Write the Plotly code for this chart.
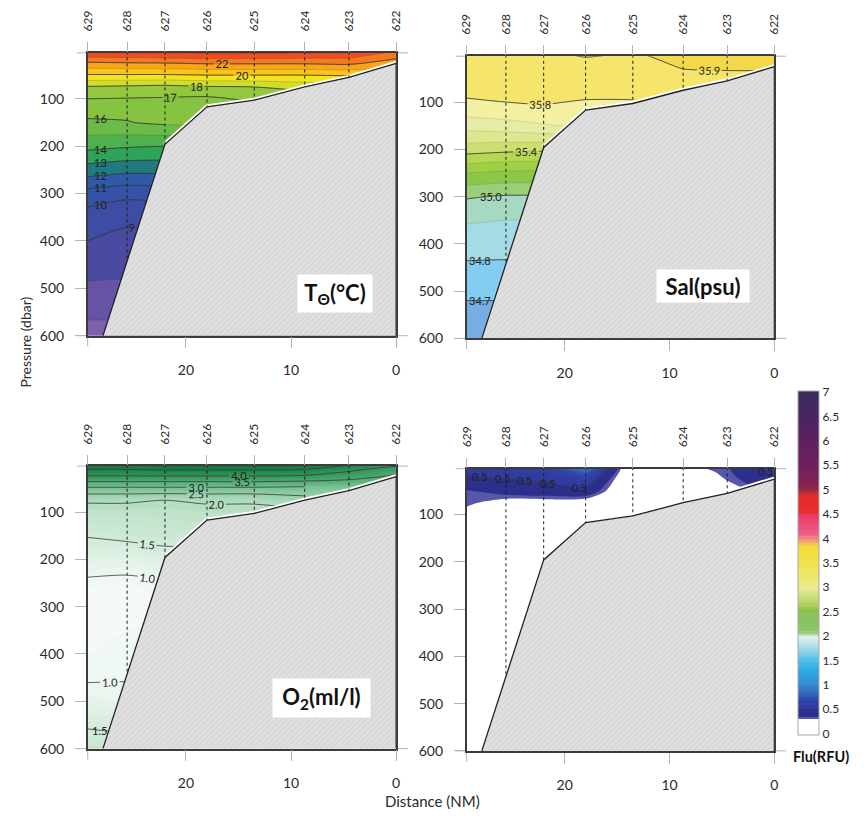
import plotly.graph_objects as go

# ---------------- data ----------------
STATIONS = ["629", "628", "627", "626", "625", "624", "623", "622"]
DIST = [29.35, 25.6, 22.0, 18.0, 13.5, 8.7, 4.5, 0.0]          # NM
STATION_BOTTOM = [600, 442, 196, 117, 103, 75, 55, 25]          # dbar
BATHY_DIST = [27.9, 22.0, 18.0, 13.5, 8.7, 4.5, 0.0]
BATHY_PRES = [600, 196, 117, 103, 75, 55, 25]
DEPTH = [0, 10, 25, 50, 75, 100, 125, 150, 200, 250, 300, 350, 400, 450, 500, 600]
X_TICKS = [20, 10, 0]
P_TICKS = [100, 200, 300, 400, 500, 600]
CB_TICKS = [0, 0.5, 1, 1.5, 2, 2.5, 3, 3.5, 4, 4.5, 5, 5.5, 6, 6.5, 7]

# rows = DEPTH, columns = stations 629 ... 622
TEMP = [
    [24.3, 24.3, 24.3, 24.4, 24.4, 24.4, 24.3, 23.0],
    [23.2, 23.3, 23.4, 23.5, 23.5, 23.4, 23.3, 22.3],
    [21.8, 21.9, 21.95, 22.1, 22.1, 22.1, 22.2, 21.5],
    [19.9, 19.9, 19.9, 20.0, 20.0, 20.0, 20.1, 20.2],
    [17.9, 17.8, 17.7, 17.9, 18.0, 18.3, 18.4, 18.4],
    [17.0, 16.95, 16.9, 16.8, 17.2, 17.4, 17.4, 17.4],
    [16.4, 16.25, 16.5, 16.6, 16.6, 16.6, 16.6, 16.6],
    [15.8, 15.95, 16.2, 16.2, 16.2, 16.2, 16.2, 16.2],
    [14.3, 14.1, 14.0, 14.0, 14.0, 14.0, 14.0, 14.0],
    [12.55, 12.3, 12.3, 12.3, 12.3, 12.3, 12.3, 12.3],
    [10.6, 10.3, 10.4, 10.4, 10.4, 10.4, 10.4, 10.4],
    [9.55, 9.15, 9.3, 9.3, 9.3, 9.3, 9.3, 9.3],
    [9.0, 8.8, 8.8, 8.8, 8.8, 8.8, 8.8, 8.8],
    [8.45, 8.3, 8.3, 8.3, 8.3, 8.3, 8.3, 8.3],
    [7.8, 7.8, 7.8, 7.8, 7.8, 7.8, 7.8, 7.8],
    [6.6, 6.6, 6.6, 6.6, 6.6, 6.6, 6.6, 6.6],
]
SAL = [
    [35.86, 35.87, 35.88, 35.91, 35.89, 35.93, 35.94, 35.95],
    [35.86, 35.87, 35.87, 35.89, 35.88, 35.92, 35.93, 35.93],
    [35.85, 35.86, 35.86, 35.87, 35.87, 35.905, 35.91, 35.91],
    [35.84, 35.85, 35.85, 35.86, 35.86, 35.88, 35.88, 35.88],
    [35.82, 35.83, 35.83, 35.84, 35.84, 35.86, 35.86, 35.86],
    [35.79, 35.80, 35.81, 35.79, 35.79, 35.84, 35.84, 35.84],
    [35.72, 35.74, 35.76, 35.77, 35.77, 35.80, 35.80, 35.80],
    [35.64, 35.66, 35.69, 35.72, 35.72, 35.72, 35.72, 35.72],
    [35.45, 35.43, 35.42, 35.45, 35.45, 35.45, 35.45, 35.45],
    [35.20, 35.18, 35.18, 35.20, 35.20, 35.20, 35.20, 35.20],
    [35.01, 34.99, 34.99, 35.00, 35.00, 35.00, 35.00, 35.00],
    [34.91, 34.90, 34.90, 34.90, 34.90, 34.90, 34.90, 34.90],
    [34.85, 34.84, 34.84, 34.84, 34.84, 34.84, 34.84, 34.84],
    [34.78, 34.78, 34.78, 34.78, 34.78, 34.78, 34.78, 34.78],
    [34.72, 34.72, 34.72, 34.72, 34.72, 34.72, 34.72, 34.72],
    [34.62, 34.62, 34.62, 34.62, 34.62, 34.62, 34.62, 34.62],
]
OXY = [
    [4.85, 4.85, 4.9, 4.9, 4.9, 4.85, 4.55, 4.1],
    [4.5, 4.5, 4.55, 4.55, 4.55, 4.5, 4.1, 3.8],
    [3.95, 3.95, 3.95, 3.95, 3.95, 3.9, 3.75, 3.4],
    [2.9, 2.9, 2.9, 2.9, 2.9, 2.85, 2.8, 2.8],
    [2.05, 2.05, 2.0, 2.05, 2.05, 2.3, 2.3, 2.3],
    [1.85, 1.85, 1.85, 1.9, 1.9, 1.9, 1.9, 1.9],
    [1.7, 1.72, 1.75, 1.8, 1.8, 1.8, 1.8, 1.8],
    [1.52, 1.6, 1.62, 1.62, 1.62, 1.62, 1.62, 1.62],
    [1.25, 1.2, 1.35, 1.35, 1.35, 1.35, 1.35, 1.35],
    [0.92, 0.9, 0.95, 0.95, 0.95, 0.95, 0.95, 0.95],
    [0.8, 0.88, 0.9, 0.9, 0.9, 0.9, 0.9, 0.9],
    [0.85, 0.9, 0.9, 0.9, 0.9, 0.9, 0.9, 0.9],
    [0.9, 0.93, 0.93, 0.93, 0.93, 0.93, 0.93, 0.93],
    [0.96, 0.98, 0.98, 0.98, 0.98, 0.98, 0.98, 0.98],
    [1.15, 1.1, 1.1, 1.1, 1.1, 1.1, 1.1, 1.1],
    [1.75, 1.7, 1.7, 1.7, 1.7, 1.7, 1.7, 1.7],
]
FLU = [
    [0.53, 0.56, 0.62, 0.95, 0.10, 0.27, 0.34, 0.56],
    [0.52, 0.54, 0.58, 0.80, 0.10, 0.22, 0.33, 0.53],
    [0.48, 0.50, 0.53, 0.62, 0.10, 0.15, 0.31, 0.47],
    [0.34, 0.40, 0.42, 0.45, 0.10, 0.10, 0.20, 0.40],
    [0.32, 0.25, 0.25, 0.22, 0.10, 0.10, 0.10, 0.10],
    [0.26, 0.15, 0.12, 0.10, 0.10, 0.10, 0.10, 0.10],
    [0.15, 0.10, 0.10, 0.10, 0.10, 0.10, 0.10, 0.10],
    [0.10, 0.10, 0.10, 0.10, 0.10, 0.10, 0.10, 0.10],
    [0.10, 0.10, 0.10, 0.10, 0.10, 0.10, 0.10, 0.10],
    [0.10, 0.10, 0.10, 0.10, 0.10, 0.10, 0.10, 0.10],
    [0.10, 0.10, 0.10, 0.10, 0.10, 0.10, 0.10, 0.10],
    [0.10, 0.10, 0.10, 0.10, 0.10, 0.10, 0.10, 0.10],
    [0.10, 0.10, 0.10, 0.10, 0.10, 0.10, 0.10, 0.10],
    [0.10, 0.10, 0.10, 0.10, 0.10, 0.10, 0.10, 0.10],
    [0.10, 0.10, 0.10, 0.10, 0.10, 0.10, 0.10, 0.10],
    [0.10, 0.10, 0.10, 0.10, 0.10, 0.10, 0.10, 0.10],
]

# ---------------- styles ----------------
FONT = "Lato, 'Open Sans', sans-serif"
OFF = 8                            # default body margin of the html page
W, H = 866 - 2 * OFF, 825 - 2 * OFF
TICK_C = "#b4b4b4"
BOX_C = "#3c3c3c"
TXT_C = "#2a2a2a"

T_COLORS = ["#7d60ae", "#6753a3", "#4a4aa0", "#3d4da3", "#3453a6", "#2e5aa8",
            "#1f7b7d", "#2ea35a", "#4fb04e", "#6cba48", "#86c341", "#93c83e",
            "#d2dc2a", "#f4e41c", "#fbc418", "#f9a51b", "#f47a20", "#ef4d23", "#e8401f"]
S_COLORS = ["#6a9fdc", "#76aee3", "#83cdf1", "#a3dbe6", "#a7d8c2", "#98cf78",
            "#8cc747", "#9fcf45", "#b5d752", "#cbe070", "#dce78e", "#e7eca4",
            "#f3f0a2", "#f5e56b", "#f2d84a"]
O2_STOPS = [(0.6, "#ffffff"), (0.9, "#f3f9f5"), (1.2, "#e3f2e8"), (1.5, "#d2ebda"),
            (1.8, "#c2e4cd"), (2.0, "#b2dcc0"), (2.5, "#94cfa8"), (3.0, "#72bf8c"),
            (3.5, "#50ab71"), (4.0, "#32965a"), (4.5, "#1c8348"), (5.0, "#0c6f38")]
FLU_STOPS = [(0.0, "#ffffff"), (0.299, "#ffffff"), (0.30, "#5a5aab"), (0.349, "#5454a8"),
             (0.35, "#2b2e8a"), (0.499, "#2c308e"), (0.50, "#30389e"), (0.7, "#3044a8"),
             (0.8, "#3262b8"), (1.0, "#3a88cf"), (1.25, "#2aa6df"), (1.5, "#4cc0e8"),
             (1.75, "#a4dbe6"), (1.99, "#e2f1f0"), (2.0, "#cfe6c0"), (2.1, "#8fc56a"),
             (2.5, "#8ac15c"), (2.55, "#90c040"), (2.6, "#a9cf5a"), (2.99, "#e8eb9c"),
             (3.0, "#eeea86"), (3.5, "#efe24c"), (3.85, "#f0dd35"), (3.9, "#f6b06a"),
             (4.0, "#f08a7c"), (4.1, "#ee5c88"), (4.49, "#e83866"), (4.5, "#e8302e"),
             (4.9, "#e42a2a"), (4.95, "#a8303e"), (5.05, "#8a2450"), (5.5, "#6c205e"),
             (6.0, "#5e2060"), (6.5, "#4a2462"), (7.0, "#3a2a5e")]


def band_scale(colors):
    n = len(colors) - 1
    return [[i / n, c] for i, c in enumerate(colors)]


def value_scale(stops, start, end, size):
    lo, hi = start - size / 2, end + size / 2
    out = [[min(max((v - lo) / (hi - lo), 0.0), 1.0), c] for v, c in stops]
    if out[0][0] > 0:
        out.insert(0, [0.0, out[0][1]])
    if out[-1][0] < 1:
        out.append([1.0, out[-1][1]])
    return out


def px(x):
    return (x - OFF) / W


def py(y):
    return 1 - (y - OFF) / H


def sfx(k):
    return "" if k == 1 else str(k)


def crossing_depth(table, x, level, dmin, dmax):
    """depth at which the section crosses `level` on the vertical at distance x"""
    i, t = 0, 0.0
    for j in range(len(DIST) - 1):
        if DIST[j] >= x >= DIST[j + 1]:
            i, t = j, (DIST[j] - x) / (DIST[j] - DIST[j + 1])
            break
    prof = [(1 - t) * row[i] + t * row[i + 1] for row in table]
    for j in range(len(DEPTH) - 1):
        d0, d1 = DEPTH[j], DEPTH[j + 1]
        if d1 < dmin or d0 > dmax:
            continue
        v0, v1 = prof[j], prof[j + 1]
        if v0 != v1 and (v0 - level) * (v1 - level) <= 0:
            return d0 + (level - v0) / (v1 - v0) * (d1 - d0)
    return None


# panel boxes in window pixels: left, top, right, bottom
PANELS = [(81, 53.3, 395, 339), (466.7, 56.7, 780, 341.7),
          (81, 470.7, 395, 756), (466.7, 473.3, 780, 758.3)]
P_TOP = 3
ALL = list(range(8))
LAB_FONT = dict(size=11, color="#222", family=FONT)

fig = go.Figure()
edge_labels = []


def add_panel(k, z, fill, line_specs, label_specs):
    xa, ya, xtop = "x" + sfx(k), "y" + sfx(k), "x" + str(k + 4)
    fig.add_trace(go.Contour(x=DIST, y=DEPTH, z=z, xaxis=xa, yaxis=ya,
                             autocontour=False, hoverinfo="skip", **fill))
    for cols, level, fmt, lab in line_specs:
        fig.add_trace(go.Contour(
            x=[DIST[c] for c in cols], y=DEPTH,
            z=[[row[c] for c in cols] for row in z],
            xaxis=xa, yaxis=ya, autocontour=False, showscale=False, hoverinfo="skip",
            contours=dict(coloring="none", start=level, end=level, size=1,
                          showlabels=lab, labelformat=fmt, labelfont=LAB_FONT),
            line=dict(color="#3a3a3a", width=0.8, smoothing=0.8)))
    # labels of contour lines that run into the slope, placed on the line itself
    for level, x, dmin, dmax, fmt in label_specs:
        d = crossing_depth(z, x, level, dmin, dmax)
        if d is not None:
            edge_labels.append(dict(text=format(level, fmt), x=x, y=d, xref=xa, yref=ya,
                                    showarrow=False, font=LAB_FONT,
                                    xanchor="center", yanchor="middle"))
    sx, sy = [], []
    for d, b in zip(DIST[1:-1], STATION_BOTTOM[1:-1]):
        sx += [d, d, None]
        sy += [DEPTH[0], b, None]
    fig.add_trace(go.Scatter(x=sx, y=sy, mode="lines", xaxis=xtop, yaxis=ya,
                             line=dict(color="#1e1e1e", width=1, dash="dot"),
                             hoverinfo="skip", showlegend=False))
    fig.add_trace(go.Scatter(x=BATHY_DIST[1:], y=BATHY_PRES[1:], mode="lines",
                             xaxis=xa, yaxis=ya, line=dict(color="white", width=5),
                             hoverinfo="skip", showlegend=False))
    fig.add_trace(go.Scatter(
        x=BATHY_DIST + [DIST[-1]], y=BATHY_PRES + [DEPTH[-1]], mode="lines",
        fill="toself", fillcolor="#dcdcdc",
        fillpattern=dict(shape="/", fgcolor="#c6c6c6", bgcolor="#e0e0e0",
                         size=4, solidity=0.3),
        line=dict(color="#222", width=1.3), xaxis=xa, yaxis=ya,
        hoverinfo="skip", showlegend=False))


add_panel(1, TEMP, dict(
    contours=dict(coloring="fill", start=7, end=24, size=1, showlines=True),
    line=dict(color="rgba(40,40,40,0.35)", width=0.5, smoothing=0.8),
    colorscale=band_scale(T_COLORS), showscale=False),
    [([0, 1, 2], lv, ".0f", False) for lv in (10, 11, 12, 13, 14, 16)]
    + [([0, 1, 2], 9, ".0f", True), ([0, 1, 2, 3, 4], 17, ".0f", True),
       ([0, 1, 2, 3, 4, 5], 18, ".0f", True), (ALL, 20, ".0f", True), (ALL, 22, ".0f", True)],
    [(16, 28.15, 100, 200, ".0f"), (14, 28.15, 150, 400, ".0f"),
     (13, 28.15, 150, 400, ".0f"), (12, 28.15, 150, 400, ".0f"),
     (11, 28.15, 150, 400, ".0f"), (10, 28.15, 150, 400, ".0f")])

add_panel(2, SAL, dict(
    contours=dict(coloring="fill", start=34.6, end=35.9, size=0.1, showlines=True),
    line=dict(color="rgba(40,40,40,0.22)", width=0.5, smoothing=0.8),
    colorscale=band_scale(S_COLORS), showscale=False),
    [([0, 1, 2, 3], lv, ".1f", False) for lv in (34.7, 34.8, 35.0)]
    + [([0, 1, 2, 3], 35.4, ".1f", True), ([0, 1, 2, 3, 4], 35.8, ".1f", True),
       (ALL, 35.9, ".1f", True)],
    [(35.0, 27.0, 250, 400, ".1f"), (34.8, 28.1, 350, 500, ".1f"),
     (34.7, 28.1, 450, 600, ".1f")])

add_panel(3, OXY, dict(
    contours=dict(coloring="fill", start=0.6, end=5.0, size=0.1, showlines=False),
    line=dict(width=0, smoothing=0.8),
    colorscale=value_scale(O2_STOPS, 0.6, 5.0, 0.1), showscale=False),
    [([0, 1, 2, 3], lv, ".1f", True) for lv in (1.0, 1.5)]
    + [([0, 1, 2, 3, 4, 5], lv, ".1f", True) for lv in (2.0, 2.5, 3.0)]
    + [(ALL, lv, ".1f", True) for lv in (3.5, 4.0, 4.5)],
    [(1.5, 28.2, 500, 600, ".1f")])

add_panel(4, FLU, dict(
    contours=dict(coloring="fill", start=0.0, end=7.0, size=0.05, showlines=False),
    line=dict(width=0, smoothing=0.8),
    colorscale=value_scale(FLU_STOPS, 0.0, 7.0, 0.05), showscale=True,
    colorbar=dict(x=px(804), xanchor="left", xpad=0, y=py(742), yanchor="bottom",
                  ypad=0, thickness=21, thicknessmode="pixels", len=344, lenmode="pixels",
                  outlinecolor="#a8a8a8", outlinewidth=1, tickmode="array",
                  tickvals=CB_TICKS, ticks="", tickfont=dict(size=12, color=TXT_C, family=FONT))),
    [(ALL, 0.5, ".1f", True)],
    [(0.5, 28.1, 0, 100, ".1f"), (0.5, 25.9, 0, 100, ".1f"), (0.5, 23.8, 0, 100, ".1f"),
     (0.5, 21.6, 0, 100, ".1f"), (0.5, 0.8, 0, 100, ".1f")])

layout = dict(
    width=W, height=H, margin=dict(l=0, r=0, t=0, b=0),
    paper_bgcolor="white", plot_bgcolor="white", showlegend=False,
    font=dict(family=FONT, color=TXT_C),
)
shapes = []
for k, (l, t, r, b) in enumerate(PANELS, start=1):
    xd = [px(l), px(r)]
    yd = [py(b), py(t)]
    xs, ys, xt = sfx(k), sfx(k), str(k + 4)
    layout["xaxis" + xs] = dict(
        domain=xd, range=[DIST[0], DIST[-1]], anchor="y" + ys,
        tickmode="array", tickvals=X_TICKS, ticks="outside", ticklen=11,
        tickcolor=TICK_C, showline=True, linecolor=BOX_C, linewidth=1.5, mirror=True,
        showgrid=False, zeroline=False, ticklabelstandoff=10,
        tickfont=dict(size=14, color=TXT_C, family=FONT))
    layout["yaxis" + ys] = dict(
        domain=yd, range=[DEPTH[-1], P_TOP], anchor="x" + xs,
        tickmode="array", tickvals=P_TICKS, ticks="outside", ticklen=11,
        tickcolor=TICK_C, showline=True, linecolor=BOX_C, linewidth=1.5, mirror=True,
        showgrid=False, zeroline=False, ticklabelstandoff=8,
        tickfont=dict(size=14, color=TXT_C, family=FONT))
    layout["xaxis" + xt] = dict(
        domain=xd, overlaying="x" + xs, side="top", anchor="y" + ys,
        range=[DIST[0], DIST[-1]], tickmode="array", tickvals=DIST, ticktext=STATIONS,
        tickangle=-90, ticks="outside", ticklen=10, tickcolor=TICK_C,
        showline=False, showgrid=False, zeroline=False, ticklabelstandoff=8,
        tickfont=dict(size=12, color=TXT_C, family=FONT))
    for yv in (0, 1):
        shapes.append(dict(type="line", xref="x" + xs + " domain", yref="y" + ys + " domain",
                           x0=-0.035, x1=1.038, y0=yv, y1=yv, layer="below",
                           line=dict(color=TICK_C, width=1)))
    shapes.append(dict(type="line", xref="x" + xs + " domain", yref="y" + ys + " domain",
                       x0=0, x1=0, y0=-0.038, y1=0, layer="below",
                       line=dict(color=TICK_C, width=1)))

layout["shapes"] = shapes

box_font = dict(family=FONT, size=22, color="#111", weight="bold")


def ann(text, x, y, **kw):
    d = dict(text=text, x=px(x), y=py(y), xref="paper", yref="paper", showarrow=False,
             xanchor="center", yanchor="middle")
    d.update(kw)
    return d


layout["annotations"] = edge_labels + [
    ann("T<sub>Θ</sub>(°C)", 333, 296.5, bgcolor="white", width=72, height=35, font=box_font),
    ann("Sal(psu)", 707.7, 289, bgcolor="white", width=90, height=30, font=box_font),
    ann("O<sub>2</sub>(ml/l)", 319, 705, bgcolor="white", width=95, height=36, font=box_font),
    ann("Flu(RFU)", 797, 764, xanchor="left",
        font=dict(family=FONT, size=14.5, color="#111", weight="bold")),
    ann("Pressure (dbar)", 18, 345, textangle=-90, font=dict(family=FONT, size=14, color=TXT_C)),
    ann("Distance (NM)", 432, 809, font=dict(family=FONT, size=15, color=TXT_C)),
]

fig.update_layout(**layout)
fig.write_html("out.html")
